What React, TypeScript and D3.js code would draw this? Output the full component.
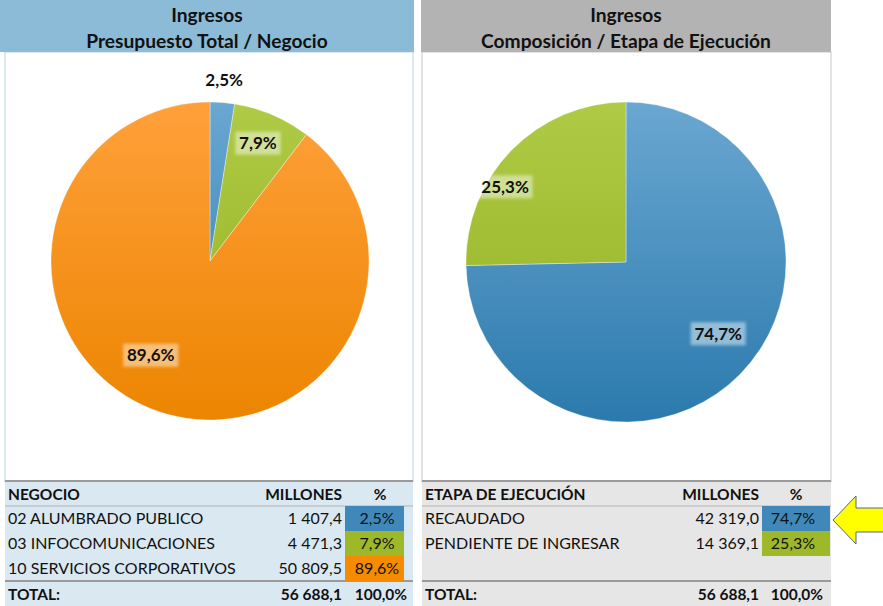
import * as d3 from "d3";

// Ingresos - presupuesto por negocio y etapa de ejecución (millones)
const negocios = ["02 ALUMBRADO PUBLICO", "03 INFOCOMUNICACIONES", "10 SERVICIOS CORPORATIVOS"];
const negocioMillones = [1407.4, 4471.3, 50809.5];
const negocioColors = ["blue", "green", "orange"];

const etapas = ["RECAUDADO", "PENDIENTE DE INGRESAR"];
const etapaMillones = [42319.0, 14369.1];
const etapaColors = ["blue", "green"];

const totalMillones = 56688.1;

// label placement (fraction of radius, angle shift in degrees from slice middle)
const negocioLabelPos = [
  { r: 1.14, shift: 0 },
  { r: 0.8, shift: -1 },
  { r: 0.7, shift: 13.5 },
];
const etapaLabelPos = [
  { r: 0.73, shift: -6.5 },
  { r: 0.89, shift: -12.5 },
];

const palette: Record<string, { top: string; bottom: string; cell: string }> = {
  blue: { top: "#6aa7d1", bottom: "#2b7aad", cell: "#3f88b9" },
  green: { top: "#afca45", bottom: "#93b021", cell: "#9db92a" },
  orange: { top: "#ffa03a", bottom: "#ec8500", cell: "#f58b00" },
};

const loc = d3.formatLocale({ decimal: ",", thousands: " ", grouping: [3], currency: ["", ""] });
const fmtNum = loc.format(",.1f");
const fmtPct = loc.format(".1%");

const FONT = "Lato, 'Open Sans', sans-serif";

function Pie({ id, cx, cy, radius, values, colors, labelPos }: any) {
  const pie = d3.pie<number>().sort(null).value((d) => d);
  const arcs = pie(values);
  const arc = d3.arc<d3.PieArcDatum<number>>().innerRadius(0).outerRadius(radius);
  const total = d3.sum(values);
  return (
    <g transform={`translate(${cx},${cy})`}>
      <defs>
        {colors.map((c: string) => (
          <linearGradient
            key={c}
            id={`${id}-${c}`}
            gradientUnits="userSpaceOnUse"
            x1={0}
            y1={-radius}
            x2={0}
            y2={radius}
          >
            <stop offset="0%" stopColor={palette[c].top} />
            <stop offset="100%" stopColor={palette[c].bottom} />
          </linearGradient>
        ))}
        <filter id={`${id}-glow`} x="-20%" y="-30%" width="140%" height="160%">
          <feGaussianBlur stdDeviation="1.5" />
        </filter>
      </defs>
      {arcs.map((a, i) => (
        <path
          key={i}
          d={arc(a) as string}
          fill={`url(#${id}-${colors[i]})`}
          stroke="#ffffff"
          strokeOpacity={0.5}
          strokeWidth={0.7}
        />
      ))}
      {arcs.map((a, i) => {
        const mid = (a.startAngle + a.endAngle) / 2 + (labelPos[i].shift * Math.PI) / 180;
        const r = radius * labelPos[i].r;
        const x = r * Math.sin(mid);
        const y = -r * Math.cos(mid);
        const txt = fmtPct(values[i] / total);
        const w = txt.length * 9.8 + 6;
        const outside = labelPos[i].r > 1;
        return (
          <g key={`l${i}`} transform={`translate(${x},${y})`}>
            {!outside && (
              <rect
                x={-w / 2}
                y={-11.5}
                width={w}
                height={23}
                fill="#ffffff"
                fillOpacity={0.45}
                filter={`url(#${id}-glow)`}
              />
            )}
            <text
              textAnchor="middle"
              dy="0.35em"
              fontFamily={FONT}
              fontWeight={700}
              fontSize={17}
              fill="#111"
            >
              {txt}
            </text>
          </g>
        );
      })}
    </g>
  );
}

function Table({ x0, x1, title, names, values, colors, bg, millonesX, cellX0, cellX1, pctX, totalPctX, rows }: any) {
  const y = d3.scaleBand<number>().domain(d3.range(rows)).range([506, 581]);
  const total = totalMillones;
  return (
    <g fontFamily={FONT} fontSize={16} fill="#111">
      <rect x={x0} y={480} width={x1 - x0} height={126} fill={bg} />
      <line x1={x0} x2={x1} y1={481} y2={481} stroke="#9a9a9a" strokeWidth={2} />
      <line x1={x0} x2={x1} y1={506} y2={506} stroke="#b5b5b5" strokeWidth={1} />
      <line x1={x0} x2={x1} y1={581} y2={581} stroke="#9a9a9a" strokeWidth={2} />
      <text x={x0 + 3} y={495} dy="0.35em" fontWeight={700} fontSize={15.5}>{title}</text>
      <text x={millonesX} y={495} dy="0.35em" fontWeight={700} fontSize={15.5} textAnchor="end">MILLONES</text>
      <text x={pctX + 3} y={495} dy="0.35em" fontWeight={700} fontSize={15.5} textAnchor="middle">%</text>
      {names.map((n: string, i: number) => {
        const yy = (y(i) as number) + y.bandwidth() / 2;
        return (
          <g key={n}>
            <rect
              x={cellX0}
              y={y(i) as number}
              width={cellX1 - cellX0}
              height={y.bandwidth()}
              fill={palette[colors[i]].cell}
            />
            <text x={x0 + 3} y={yy} dy="0.35em">{n}</text>
            <text x={millonesX} y={yy} dy="0.35em" textAnchor="end">{fmtNum(values[i])}</text>
            <text x={pctX} y={yy} dy="0.35em" textAnchor="middle">{fmtPct(values[i] / total)}</text>
          </g>
        );
      })}
      <text x={x0 + 3} y={595} dy="0.35em" fontWeight={700} fontSize={15.5}>TOTAL:</text>
      <text x={millonesX} y={595} dy="0.35em" fontWeight={700} fontSize={15.5} textAnchor="end">{fmtNum(total)}</text>
      <text x={totalPctX} y={595} dy="0.35em" fontWeight={700} fontSize={15.5} textAnchor="end">{fmtPct(1)}</text>
    </g>
  );
}

function Header({ x0, x1, fill, line2 }: any) {
  const cx = (x0 + x1) / 2;
  return (
    <g fontFamily={FONT} fontWeight={700} fontSize={19.2} fill="#111" textAnchor="middle">
      <rect x={x0} y={0} width={x1 - x0} height={52} fill={fill} />
      <text x={cx} y={15} dy="0.35em">Ingresos</text>
      <text x={cx} y={41} dy="0.35em">{line2}</text>
    </g>
  );
}

export default function App() {
  return (
    <div style={{ position: "absolute", left: 0, top: 0 }}>
      <svg width={883} height={606} style={{ display: "block", background: "#fff" }}>
        {/* left panel */}
        <rect x={5} y={52} width={408} height={430} fill="#fff" stroke="#b8d4e6" strokeWidth={1} />
        <Header x0={0} x1={414} fill="#8bbbd7" line2="Presupuesto Total / Negocio" />
        <Pie
          id="neg"
          cx={210}
          cy={261}
          radius={159}
          values={negocioMillones}
          colors={negocioColors}
          labelPos={negocioLabelPos}
        />
        <Table
          x0={5}
          x1={413}
          title="NEGOCIO"
          names={negocios}
          values={negocioMillones}
          colors={negocioColors}
          bg="#dae8f2"
          millonesX={342}
          cellX0={345}
          cellX1={404}
          pctX={377}
          totalPctX={407}
          rows={3}
        />

        {/* right panel */}
        <rect x={422} y={52} width={409} height={430} fill="#fff" stroke="#c8c8c8" strokeWidth={1} />
        <Header x0={421} x1={831} fill="#b3b3b3" line2="Composición / Etapa de Ejecución" />
        <Pie
          id="eta"
          cx={626}
          cy={262}
          radius={160}
          values={etapaMillones}
          colors={etapaColors}
          labelPos={etapaLabelPos}
        />
        <Table
          x0={422}
          x1={831}
          title="ETAPA DE EJECUCIÓN"
          names={etapas}
          values={etapaMillones}
          colors={etapaColors}
          bg="#e6e6e6"
          millonesX={759}
          cellX0={762}
          cellX1={830}
          pctX={793}
          totalPctX={823}
          rows={3}
        />

        {/* arrow pointing to RECAUDADO */}
        <polygon
          points="833,520 856,496 856,508 884,508 884,532 856,532 856,544"
          fill="#ffff00"
          stroke="#4d6a85"
          strokeWidth={1}
        />
      </svg>
    </div>
  );
}
